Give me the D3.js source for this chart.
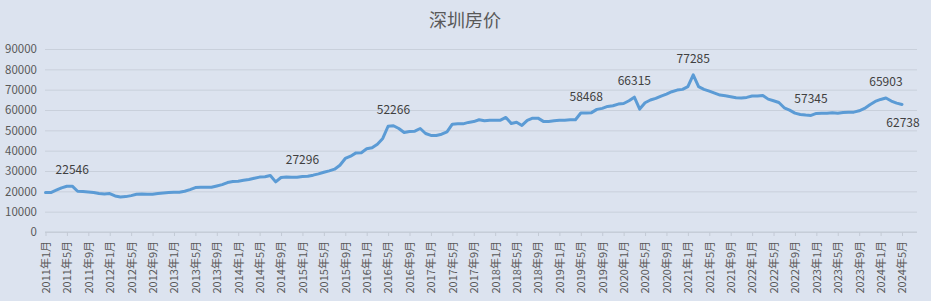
<!DOCTYPE html>
<html><head><meta charset="utf-8">
<script src="https://cdn.jsdelivr.net/npm/d3@7"></script>
<style>
html,body{margin:0;padding:0;background:#dce3ef;}
svg{display:block;}
text{font-family:"Noto Sans CJK SC","Noto Sans",sans-serif;}
</style></head>
<body>
<svg id="c" width="931" height="301"></svg>
<script>
const title = "深圳房价";
const startYear = 2011, startMonth = 1;
const prices = [
19400,19400,20540,21700,22500,22546,20050,19900,19700,19400,18900,18700,
18900,17750,17250,17400,17900,18550,18700,18550,18550,18900,19200,19400,
19550,19550,20050,20870,21850,22000,22000,22000,22660,23300,24300,24800,
25000,25450,25800,26400,27000,27200,27800,24650,26800,27100,26950,26950,
27296,27450,27950,28600,29400,30050,30900,32850,36150,37300,38900,39000,
40900,41400,43200,46000,52000,52266,50900,48950,49450,49600,50900,48450,
47500,47500,48100,49250,53050,53200,53200,53900,54300,55200,54700,55000,
55000,55000,56350,53400,54000,52400,54900,56000,56000,54400,54400,54700,
54900,55000,55200,55200,58500,58468,58700,60300,60800,61750,62100,62900,
63200,64550,66315,60450,63550,64900,65700,66850,67850,69000,69800,70150,
71450,77285,71450,70150,69300,68300,67350,67000,66500,66000,65850,66200,
66850,66850,67150,65350,64550,63700,61100,59950,58450,57800,57500,57345,
58300,58450,58450,58600,58450,58800,58950,58950,59600,60750,62550,64200,
65200,65903,64400,63400,62738
];
const months = prices.map((_, i) => {
  const m = startMonth - 1 + i;
  return `${startYear + Math.floor(m / 12)}年${(m % 12) + 1}月`;
});
const yTicks = [0,10000,20000,30000,40000,50000,60000,70000,80000,90000];
const labelIdx = [5,48,65,101,110,121,143,157,160];
const xTickIdx = d3.range(0, prices.length, 4);

const svg = d3.select("#c");
const L = 45, R = 917, T = 49, B = 232;
const x = d3.scaleLinear().domain([0, 160]).range([45.5, 902]);
const y = d3.scaleLinear().domain([0, 90000]).range([B, T]);

svg.append("text").attr("x", 465).attr("y", 19).attr("text-anchor", "middle")
  .attr("dominant-baseline", "central").attr("font-size", 18).attr("fill", "#595959").text(title);

// y axis + grid
const ya = svg.append("g").attr("transform", `translate(${L},0)`)
  .call(d3.axisLeft(y).tickValues(yTicks).tickSize(-(R - L)).tickPadding(8).tickFormat(d3.format("d")));
ya.select(".domain").remove();
ya.selectAll(".tick line").attr("stroke", "#c9d0db").attr("stroke-width", 1);
ya.selectAll(".tick text").attr("font-size", 11.5).attr("fill", "#595959")
  .attr("font-family", '"Noto Sans CJK SC","Noto Sans",sans-serif');

// x axis
const xa = svg.append("g").attr("transform", `translate(0,${B})`)
  .call(d3.axisBottom(x).tickValues(xTickIdx).tickSize(4).tickFormat(i => months[i]));
xa.select(".domain").attr("d", `M${L},0H${R}`).attr("stroke", "#c3cad5");
xa.selectAll(".tick line").attr("stroke", "#c3cad5");
xa.selectAll(".tick text").attr("font-size", 11).attr("fill", "#595959")
  .attr("font-family", '"Noto Sans CJK SC","Noto Sans",sans-serif')
  .attr("transform", "translate(0,9) rotate(-90)")
  .attr("text-anchor", "end").attr("dy", "0.35em").attr("y", 0).attr("x", 0);

// line
const line = d3.line().x((d, i) => x(i)).y(d => y(d));
svg.append("path").datum(prices).attr("d", line).attr("fill", "none")
  .attr("stroke", "#5b9bd5").attr("stroke-width", 3).attr("stroke-linejoin", "round").attr("stroke-linecap", "round");

// data labels
svg.append("g").selectAll("text").data(labelIdx).join("text")
  .attr("x", i => x(i) + (i === prices.length - 1 ? 1 : 0))
  .attr("y", i => y(prices[i]) + (i === prices.length - 1 ? 17.5 : -17.5))
  .attr("text-anchor", "middle").attr("dominant-baseline", "central")
  .attr("font-size", 12).attr("fill", "#404040").text(i => prices[i]);
</script>
</body></html>
